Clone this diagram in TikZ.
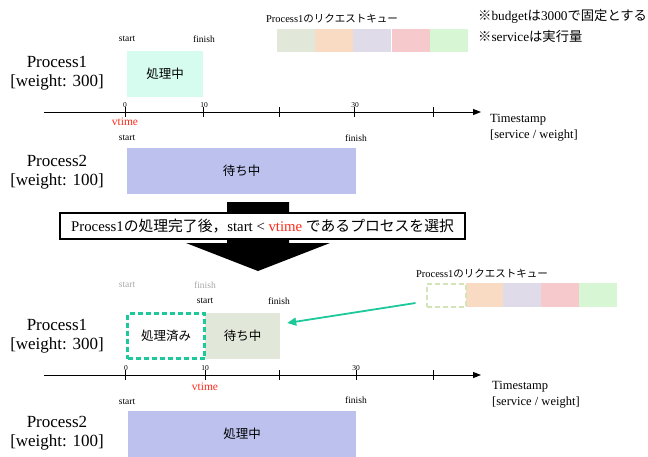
\documentclass[tikz,border=0pt]{standalone}
\usepackage{fontspec}
\setmainfont{Liberation Serif}
\newfontfamily\cjk{Noto Sans CJK JP}
\usetikzlibrary{arrows.meta}
\definecolor{mint}{HTML}{D6FCEF}
\definecolor{periw}{HTML}{BCC1EE}
\definecolor{qa}{HTML}{E2E8D9}
\definecolor{qb}{HTML}{F9DBC3}
\definecolor{qc}{HTML}{E0DBE8}
\definecolor{qd}{HTML}{F6C9CC}
\definecolor{qe}{HTML}{D7F6D3}
\definecolor{tealg}{HTML}{1DC99A}
\definecolor{olived}{HTML}{D3E4B8}
\definecolor{vred}{HTML}{FF2A1A}
\definecolor{labelgray}{HTML}{A8A8A8}
\begin{document}
\begin{tikzpicture}[x=1pt,y=-1pt,
 lbl/.style={font=\fontsize{9.5}{10}\selectfont, inner sep=0},
 glbl/.style={lbl, text=labelgray},
 pname/.style={align=center, font=\fontsize{17}{19}\selectfont, inner sep=0},
 barbox/.style={inner sep=0, minimum height=46pt, font=\cjk\fontsize{12.5}{14}\selectfont},
 qcell/.style={inner sep=0, minimum width=38pt, minimum height=23pt},
 tickmark/.style={line width=0.8pt},
 tnum/.style={font=\fontsize{7.5}{8}\selectfont, inner sep=0},
 vt/.style={text=vred, font=\fontsize{11.5}{12}\selectfont, inner sep=0},
 axisline/.style={line width=1pt, -{Triangle[length=8pt,width=6pt]}},
 ts/.style={align=left, anchor=west, font=\fontsize{12.5}{16}\selectfont, inner sep=0},
 qtitle/.style={font=\fontsize{10.5}{11}\selectfont, inner sep=0},
 note/.style={anchor=west, font=\fontsize{13.3}{14}\selectfont, inner sep=0},
]
\useasboundingbox (0,0) rectangle (648,456);

% ---------- top section ----------
\node[qtitle] (qt1) at (332,18) {Process1{\cjk のリクエストキュー}};
\node[qcell, fill=qa] (q1a) at (296,40.5) {};
\node[qcell, fill=qb] (q1b) at (334,40.5) {};
\node[qcell, fill=qc] (q1c) at (372,40.5) {};
\node[qcell, fill=qd] (q1d) at (410.5,40.5) {};
\node[qcell, fill=qe] (q1e) at (449,40.5) {};

\node[note] (n1) at (478,16) {{\cjk ※}budget{\cjk は}3000{\cjk で固定とする}};
\node[note] (n2) at (478,36) {{\cjk ※}service{\cjk は実行量}};

\node[pname] (p1a) at (57,73.5) {Process1\\{}[weight: 300]};
\node[lbl] (s1) at (127,39) {start};
\node[lbl] (f1) at (204,39) {finish};
\node[barbox, fill=mint, minimum width=76pt] (run1) at (165,74) {処理中};

\coordinate (ax1s) at (44,112);
\coordinate (ax1e) at (481,112);
\draw[axisline] (ax1s) -- (ax1e);
\foreach \x in {125,203,279,354,433} \draw[tickmark] (\x,107) -- (\x,117);
\node[tnum] (t10) at (125,105) {0};
\node[tnum] (t11) at (204,105) {10};
\node[tnum] (t13) at (355,105) {30};
\node[vt] (vt1) at (125,122) {vtime};
\node[ts] (ts1) at (490,128) {Timestamp\\{}[service / weight]};

\node[pname] (p2a) at (57,172.5) {Process2\\{}[weight: 100]};
\node[lbl] (s2) at (127,138) {start};
\node[lbl] (f2) at (356,138) {finish};
\node[barbox, fill=periw, minimum width=229pt] (wait2) at (241.5,171) {待ち中};

% ---------- big arrow ----------
\fill[black] (227,202) -- (289,202) -- (289,243) -- (330,243) -- (258,271) -- (186,243) -- (227,243) -- cycle;
\node[draw=black, line width=1.1pt, fill=white, inner sep=0, minimum width=405pt, minimum height=26pt,
      font=\fontsize{14.8}{16}\selectfont] (sel) at (262.5,226)
 {Process1{\cjk の処理完了後，}start < {\color{vred}vtime} {\cjk であるプロセスを選択}};

% ---------- bottom section ----------
\node[qtitle] (qt2) at (482,273) {Process1{\cjk のリクエストキュー}};
\node[qcell, fill=qb, minimum width=37pt, minimum height=24pt] (q2b) at (484.5,295) {};
\node[qcell, fill=qc, minimum width=38pt, minimum height=24pt] (q2c) at (522,295) {};
\node[qcell, fill=qd, minimum width=38pt, minimum height=24pt] (q2d) at (560,295) {};
\node[qcell, fill=qe, minimum width=38pt, minimum height=24pt] (q2e) at (598,295) {};
\node[qcell, draw=olived, line width=2pt, dash pattern=on 5pt off 3pt, minimum width=39pt, minimum height=23pt] (qgone) at (446,295) {};

\node[pname] (p1b) at (57,336.5) {Process1\\{}[weight: 300]};
\node[glbl] (s3g) at (127,285) {start};
\node[glbl] (f3g) at (205,285) {finish};
\node[lbl] (s3) at (205,301) {start};
\node[lbl] (f3) at (279,301) {finish};
\node[barbox, fill=qa, minimum width=75pt] (wait1) at (242.5,336) {待ち中};
\node[barbox, draw=tealg, line width=2.4pt, dash pattern=on 5pt off 3pt, minimum width=77pt, minimum height=45pt] (done1) at (166,336) {処理済み};

\draw[tealg, line width=1.8pt, -{Triangle[length=9pt,width=8pt]}]
  ([xshift=-10pt,yshift=-8pt]qgone.west) -- ([xshift=7pt,yshift=13pt]wait1.east);

\coordinate (ax2s) at (44,375);
\coordinate (ax2e) at (481,375);
\draw[axisline] (ax2s) -- (ax2e);
\foreach \x in {125,205,279,356,433} \draw[tickmark] (\x,370) -- (\x,380);
\node[tnum] (t20) at (126,368) {0};
\node[tnum] (t21) at (205,368) {10};
\node[tnum] (t23) at (356,368) {30};
\node[vt] (vt2) at (205,387) {vtime};
\node[ts] (ts2) at (492,395) {Timestamp\\{}[service / weight]};

\node[pname] (p2b) at (57,433.5) {Process2\\{}[weight: 100]};
\node[lbl] (s4) at (127,402) {start};
\node[lbl] (f4) at (356,400) {finish};
\node[barbox, fill=periw, minimum width=228pt, minimum height=46pt] (run2) at (242,434) {処理中};
\end{tikzpicture}
\end{document}
